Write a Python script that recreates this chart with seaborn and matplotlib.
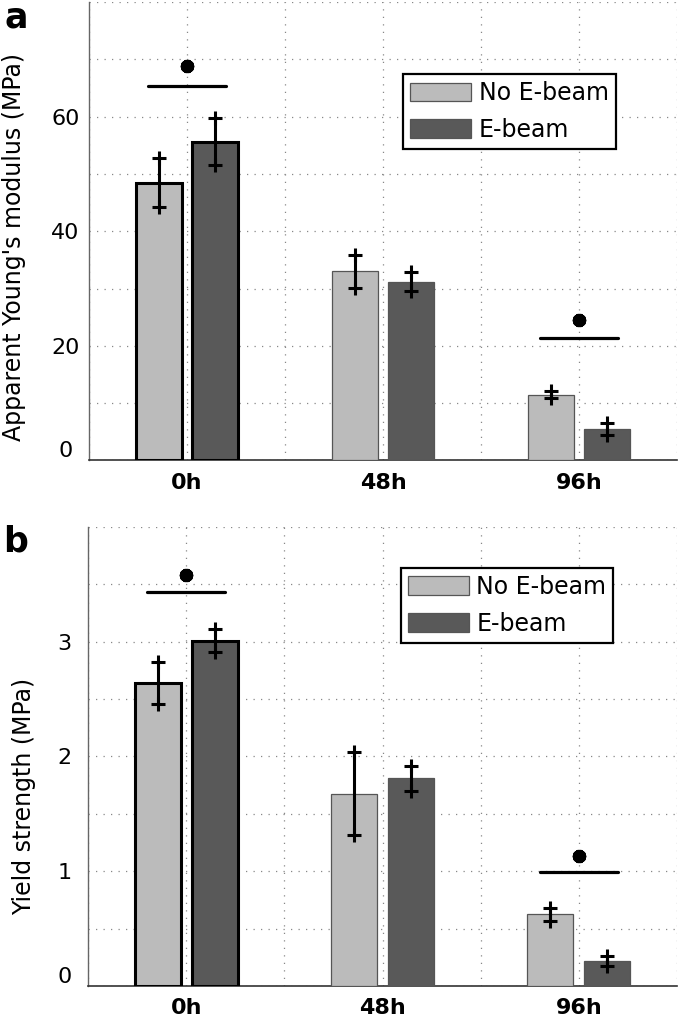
import matplotlib
matplotlib.use('Agg')
import matplotlib.pyplot as plt
import matplotlib.transforms as mtransforms
import numpy as np
import pandas as pd
import seaborn as sns

# values
times = ['0h', '48h', '96h']
groups = ['No E-beam', 'E-beam']

young_no = [48.5, 33.0, 11.5]
young_no_err = [4.2, 2.9, 0.6]
young_eb = [55.6, 31.2, 5.5]
young_eb_err = [4.1, 1.7, 1.0]

yield_no = [2.64, 1.675, 0.625]
yield_no_err = [0.18, 0.36, 0.055]
yield_eb = [3.01, 1.81, 0.215]
yield_eb_err = [0.10, 0.11, 0.043]

# significance bars: (time index, line height, star height)
young_sig = [(0, 65.4, 68.8), (2, 21.3, 24.5)]
yield_sig = [(0, 3.43, 3.58), (2, 0.99, 1.135)]

colors = {'No E-beam': '#bbbbbb', 'E-beam': '#595959'}

sns.set_style('white')
plt.rcParams['font.family'] = ['DejaVu Sans']
plt.rcParams['text.color'] = 'black'
plt.rcParams['axes.labelcolor'] = 'black'
plt.rcParams['xtick.color'] = 'black'
plt.rcParams['ytick.color'] = 'black'

fig = plt.figure(figsize=(6.8, 10.17), dpi=100)
ax_a = fig.add_axes([0.1309, 0.5472, 0.8647, 0.4508])
ax_b = fig.add_axes([0.1294, 0.0305, 0.8662, 0.4513])

offset = 0.145


def panel(ax, no, no_err, eb, eb_err, sig, ymax, ystep, ylabels, ylabel, label_xy, legend_xy, letter):
    df = pd.DataFrame({
        'time': times * 2,
        'group': [groups[0]] * 3 + [groups[1]] * 3,
        'value': no + eb,
    })
    sns.barplot(data=df, x='time', y='value', hue='group', order=times,
                hue_order=groups, palette=colors, width=0.58, gap=0.19,
                errorbar=None, ax=ax, zorder=3)

    # edges: first time point has thick black outline
    for p in ax.patches:
        cx = p.get_x() + p.get_width() / 2
        if abs(cx) < 0.4:
            p.set_edgecolor('black')
            p.set_linewidth(2.2)
        else:
            p.set_edgecolor('#555555')
            p.set_linewidth(0.9)

    # error bars
    xs = np.arange(len(times))
    for dx, vals, errs in [(-offset, no, no_err), (offset, eb, eb_err)]:
        vals = np.array(vals)
        errs = np.array(errs)
        ax.errorbar(xs + dx, vals, yerr=errs, fmt='none', ecolor='black',
                    elinewidth=2.2, capsize=0, zorder=5)
        for sgn in (-1, 1):
            ax.plot(xs + dx, vals + sgn * errs, linestyle='none', marker='+',
                    ms=9.5, mew=2.2, color='black', zorder=5)

    # significance markers
    for i, yl, ys in sig:
        ax.plot([i - 0.2, i + 0.2], [yl, yl], color='black', lw=2.3, zorder=5)
        ax.plot([i], [ys], marker=(10, 2, 0), ms=9.5, mew=2.8, color='black', zorder=5)

    ax.set_xlim(-0.5, 2.5)
    ax.set_ylim(0, ymax)
    xt = np.arange(-0.5, 2.51, 0.5)
    ax.set_xticks(xt)
    ax.set_xticklabels(['', '0h', '', '48h', '', '96h', ''],
                       fontsize=16, fontweight='bold')
    yt = np.arange(0, ymax + ystep / 2, ystep)
    ax.set_yticks(yt)
    ax.set_yticklabels(ylabels, fontsize=16, ha='center')

    ax.grid(True, linestyle=(0, (1, 5)), color='#888888', lw=0.9, zorder=0)
    ax.set_axisbelow(True)
    for s in ['top', 'right']:
        ax.spines[s].set_visible(False)
    ax.spines['left'].set_color('#666666')
    ax.spines['left'].set_linewidth(1.0)
    ax.spines['bottom'].set_color('#333333')
    ax.spines['bottom'].set_linewidth(1.2)
    ax.tick_params(axis='both', direction='in', length=4, width=0.8,
                   colors='#444444', labelcolor='black')
    ax.tick_params(axis='y', pad=17)
    ax.tick_params(axis='x', pad=9)

    ax.set_xlabel('')
    ax.set_ylabel(ylabel, fontsize=17, color='black')
    ax.yaxis.set_label_coords(*label_xy)

    handles, labels = ax.get_legend_handles_labels()
    for h in handles:
        h.set_edgecolor('#555555')
        h.set_linewidth(0.9)
    leg = ax.legend(handles, labels, loc='upper left', bbox_to_anchor=legend_xy,
                    borderaxespad=0, fontsize=17, frameon=True, fancybox=False,
                    framealpha=1, edgecolor='black', handlelength=2.6,
                    handleheight=0.85, handletextpad=0.3, labelspacing=0.55,
                    borderpad=0.3)
    leg.get_frame().set_linewidth(1.6)
    leg.set_zorder(10)
    for t in leg.get_texts():
        t.set_color('black')

    # the zero label sits a little above the axis line in the reference
    zero = ax.get_yticklabels()[0]
    zero.set_transform(zero.get_transform() +
                       mtransforms.ScaledTranslation(0, 11 / 100, fig.dpi_scale_trans))

    fig.text(*letter[1], letter[0], fontsize=25, fontweight='bold',
             ha='left', va='baseline', color='black')


panel(ax_a, young_no, young_no_err, young_eb, young_eb_err, young_sig,
      80, 10, ['0', '', '20', '', '40', '', '60', '', ''],
      "Apparent Young's modulus (MPa)", (-0.108, 0.4646), (0.534, 0.843),
      ('a', (4 / 680, 1 - 28 / 1017)))

panel(ax_b, yield_no, yield_no_err, yield_eb, yield_eb_err, yield_sig,
      4, 0.5, ['0', '', '1', '', '2', '', '3', '', ''],
      'Yield strength (MPa)', (-0.088, 0.414), (0.531, 0.911),
      ('b', (3 / 680, 1 - 551 / 1017)))

fig.savefig('out.png', dpi=100)
